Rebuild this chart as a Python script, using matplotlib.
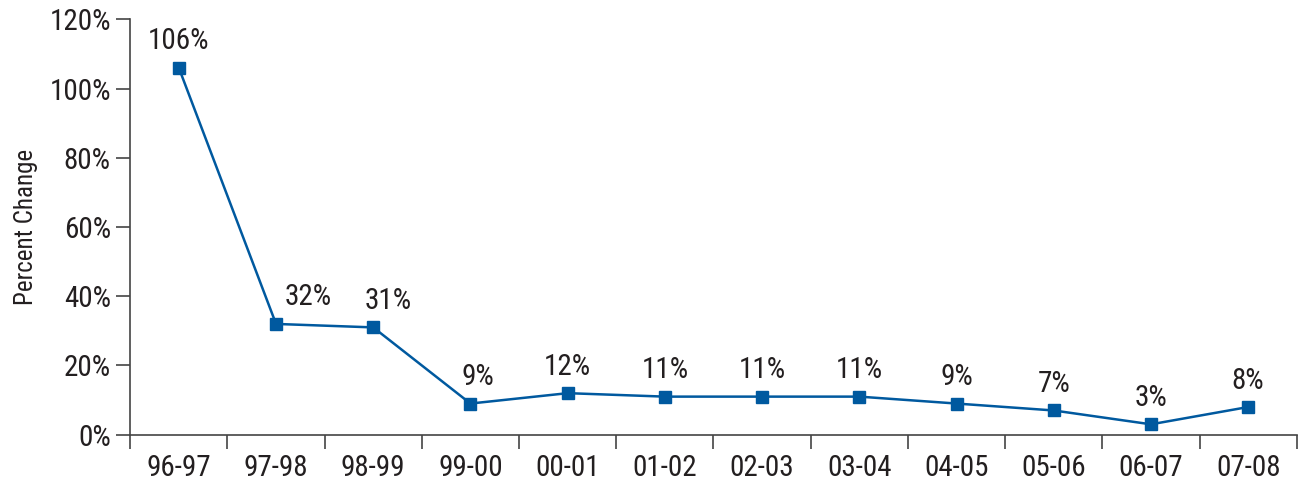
import matplotlib.pyplot as plt
from matplotlib import font_manager

# 年度区间与百分比变化
years = ['96-97', '97-98', '98-99', '99-00', '00-01', '01-02',
         '02-03', '03-04', '04-05', '05-06', '06-07', '07-08']
pct_change = [106, 32, 31, 9, 12, 11, 11, 11, 9, 7, 3, 8]
# 标签水平偏移（点），避开折线
label_dx = [0, 23, 11, 5, 0, 0, 0, 0, 0, 0, 0, 0]

names = {f.name for f in font_manager.fontManager.ttflist}
family = 'DejaVu Sans'
for cand in ['Liberation Sans Narrow', 'Roboto Condensed', 'Open Sans Condensed']:
    if cand in names:
        family = cand
        break
plt.rcParams['font.family'] = [family, 'DejaVu Sans']
plt.rcParams['font.stretch'] = 'condensed'

fig, ax = plt.subplots(figsize=(13.02, 4.83), dpi=100)
fig.subplots_adjust(left=0.1, right=0.996, top=0.96, bottom=0.1)

line_color = '#00599f'
idx = range(len(years))
ax.plot(idx, pct_change, color=line_color, linewidth=1.8,
        marker='s', markersize=9, clip_on=False)

for i, v in enumerate(pct_change):
    ax.annotate(f'{v}%', (i, v), xytext=(label_dx[i], 9), textcoords='offset points',
                ha='center', va='bottom', fontsize=21, color='#231f20')

ax.set_xlim(-0.5, len(years) - 0.5)
ax.set_ylim(0, 120)
ax.set_yticks(range(0, 121, 20))
ax.set_yticklabels([f'{t}%' for t in range(0, 121, 20)], fontsize=21, color='#231f20')
ax.set_xticks(list(idx))
ax.set_xticklabels(years, fontsize=21, color='#231f20')
ax.set_xticks([i - 0.5 for i in range(len(years) + 1)], minor=True)
ax.tick_params(axis='x', which='major', length=0, pad=14)
ax.tick_params(axis='x', which='minor', length=10, width=1.2, color='#444444')
ax.tick_params(axis='y', length=10, width=1.2, color='#444444', pad=4)
ax.set_ylabel('Percent Change', fontsize=18, color='#231f20', labelpad=8)

for s in ['top', 'right']:
    ax.spines[s].set_visible(False)
for s in ['left', 'bottom']:
    ax.spines[s].set_color('#444444')
    ax.spines[s].set_linewidth(1.2)

fig.savefig('out.png', dpi=100)
